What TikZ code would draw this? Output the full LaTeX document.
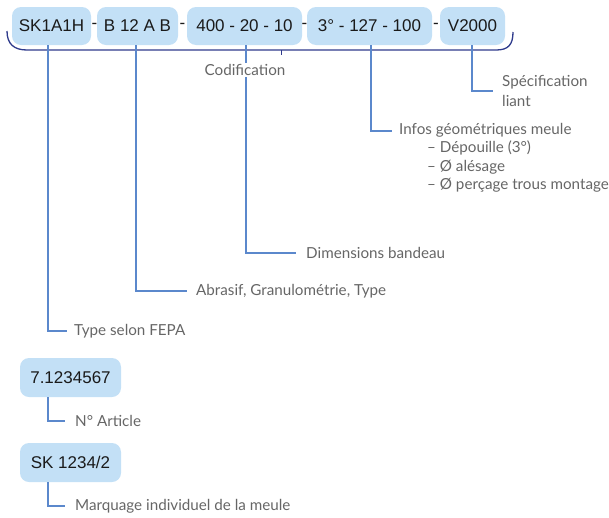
\documentclass[tikz,border=0pt]{standalone}
\usepackage{fontspec}
\setmainfont{Liberation Sans}
\newfontfamily\lblfont{Lato}
\definecolor{boxfill}{HTML}{C3E0F6}
\definecolor{linkblue}{HTML}{5B88CC}
\definecolor{bracketblue}{HTML}{2F3B8C}
\definecolor{lblgrey}{HTML}{666666}
\definecolor{codeblack}{HTML}{1A1A1A}
\begin{document}
\begin{tikzpicture}[x=1pt,y=-1pt,
  codebox/.style={fill=boxfill,rounded corners=9pt,inner sep=0pt,text=codeblack,font=\fontsize{17}{20}\selectfont},
  sepnode/.style={inner sep=0pt,text=codeblack,font=\fontsize{17}{20}\selectfont},
  lbl/.style={inner sep=0pt,anchor=west,text=lblgrey,font=\lblfont\fontsize{15.2}{18}\selectfont},
  link/.style={draw=linkblue,line width=1.2pt},
  brack/.style={draw=bracketblue,line width=1.3pt}]
\useasboundingbox (0,0) rectangle (609,517);
% code boxes
\node[codebox,minimum width=79pt,minimum height=38pt] (b1) at (51.5,26) {SK1A1H};
\node[codebox,minimum width=81pt,minimum height=38pt] (b2) at (137.5,26) {B 12 A B};
\node[codebox,minimum width=115pt,minimum height=38pt] (b3) at (244.5,26) {400 - 20 - 10};
\node[codebox,minimum width=125pt,minimum height=38pt] (b4) at (369.5,26) {3° - 127 - 100};
\node[codebox,minimum width=65pt,minimum height=38pt] (b5) at (472.5,26) {V2000};
\node[sepnode] (s1) at (94.5,26) {-};
\node[sepnode] (s2) at (182.5,26) {-};
\node[sepnode] (s3) at (304.5,26) {-};
\node[sepnode] (s4) at (436,26) {-};
% bracket
\coordinate (bl) at (7,31);
\coordinate (br) at (513,32);
\draw[brack] (bl) .. controls (7,44) and (14,50) .. (27,50) -- (496,50) .. controls (508,50) and (513,45) .. (br);
\coordinate (tk) at (281,50);
\draw[brack,line width=1pt] (tk) -- ++(0,5);
% links
\coordinate (c1) at (48,331);
\coordinate (c2) at (136,291);
\coordinate (c3) at (246,253);
\coordinate (c4) at (371,131);
\coordinate (c5) at (472,91);
\draw[link] (b1.south -| c1) -- (c1) -- ++(19,0) coordinate (e1);
\draw[link] (b2.south -| c2) -- (c2) -- ++(51,0) coordinate (e2);
\draw[link] (b3.south -| c3) -- (c3) -- ++(50,0) coordinate (e3);
\draw[link] (b4.south -| c4) -- (c4) -- ++(21,0) coordinate (e4);
\draw[link] (b5.south -| c5) -- (c5) -- ++(21,0) coordinate (e5);
\node[lbl,anchor=center,fill=white,inner sep=1.5pt] (cod) at (245,70) {Codification};
\node[lbl] (l1) at (74,331) {Type selon FEPA};
\node[lbl] (l2) at (196,291) {Abrasif, Granulométrie, Type};
\node[lbl] (l3) at (306,253) {Dimensions bandeau};
\node[lbl] (l4) at (399,130) {Infos géométriques meule};
\node[lbl] (l4a) at (427,148) {– Dépouille (3°)};
\node[lbl] (l4b) at (427,167) {– Ø alésage};
\node[lbl] (l4c) at (427,185) {– Ø perçage trous montage};
\node[lbl] (l5a) at (502,82) {Spécification};
\node[lbl] (l5b) at (502,101) {liant};
% bottom
\node[codebox,minimum width=101pt,minimum height=39pt] (b6) at (70.5,377.5) {7.1234567};
\node[codebox,minimum width=101pt,minimum height=39pt] (b7) at (70.5,462.5) {SK 1234/2};
\coordinate (c6) at (48,421);
\coordinate (c7) at (48,506);
\draw[link] (b6.south -| c6) -- (c6) -- ++(17,0) coordinate (e6);
\draw[link] (b7.south -| c7) -- (c7) -- ++(17,0) coordinate (e7);
\node[lbl] (l6) at (75,421) {N° Article};
\node[lbl] (l7) at (75,506) {Marquage individuel de la meule};
\end{tikzpicture}
\end{document}
